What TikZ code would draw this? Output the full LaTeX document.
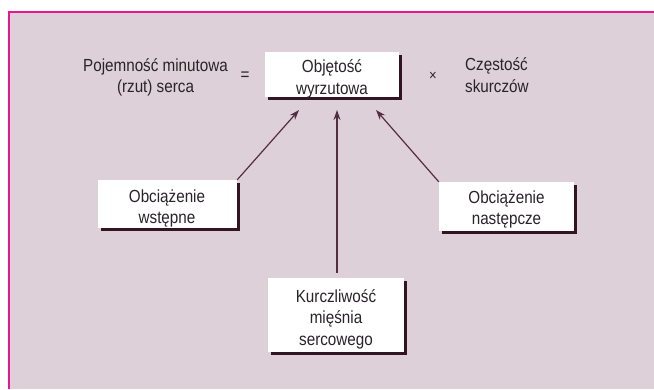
\documentclass[tikz,border=0pt]{standalone}
\usepackage{fontspec}
\setmainfont{Liberation Sans}
\newfontfamily\diagfam[FakeStretch=0.87]{Liberation Sans}
\usetikzlibrary{arrows.meta,shadows,calc}
\definecolor{bgmauve}{RGB}{221,208,216}
\definecolor{framepink}{RGB}{232,20,150}
\definecolor{shadowdark}{RGB}{50,20,35}
\definecolor{arrowcol}{RGB}{85,45,65}
\definecolor{txt}{RGB}{40,36,40}
\newcommand\diagfont{\diagfam\fontsize{17.5pt}{21.5pt}\selectfont}
\tikzset{
  boxnode/.style={fill=white, draw=none, inner sep=0pt,
    drop shadow={shadow xshift=3pt, shadow yshift=-3pt, fill=shadowdark, opacity=1}},
  lbl/.style={align=center, inner sep=0pt, font=\diagfont, text=txt, anchor=base},
  arr/.style={draw=arrowcol, line width=1.2pt, -{Stealth[length=10pt,width=7pt]}}}
\begin{document}
\begin{tikzpicture}[x=1pt,y=-1pt]
\useasboundingbox (0,0) rectangle (654,389);
\fill[white] (0,0) rectangle (654,389);
\fill[bgmauve] (9,12) rectangle (654,389);
\draw[framepink, line width=1.2pt] (9,389) -- (9,12) -- (654,12);

\node[boxnode, minimum width=134pt, minimum height=45pt] (top) at (332,74.5) {};
\node[boxnode, minimum width=139pt, minimum height=48pt] (left) at (167.5,204) {};
\node[boxnode, minimum width=135pt, minimum height=49pt] (right) at (506.5,206.5) {};
\node[boxnode, minimum width=136pt, minimum height=74pt] (bottom) at (336,315) {};

% base anchor = baseline of the last line
\node[lbl] (topt) at (332,94) {Objętość\\wyrzutowa};
\node[lbl] (leftt) at (167,223.5) {Obciążenie\\wstępne};
\node[lbl] (rightt) at (506.5,224.5) {Obciążenie\\następcze};
\node[lbl] (bottomt) at (336,345) {Kurczliwość\\mięśnia\\sercowego};

\node[lbl] (co) at (155.5,92.5) {Pojemność minutowa\\(rzut) serca};
\node[lbl] (eq) at (245,80.5) {=};
\node[lbl, font=\diagfam\fontsize{15pt}{17pt}\selectfont] (times) at (433,80) {×};
\node[lbl, align=left, anchor=base west] (hr) at (465,92) {Częstość\\skurczów};

\coordinate (tipL) at (299,110);
\coordinate (tipM) at (337,110);
\coordinate (tipR) at (376,110);
\draw[arr] (left.north east) -- (tipL);
\draw[arr, shorten <=5pt] (bottom.north -| tipM) -- (tipM);
\draw[arr] (right.north west) -- (tipR);
\end{tikzpicture}
\end{document}
